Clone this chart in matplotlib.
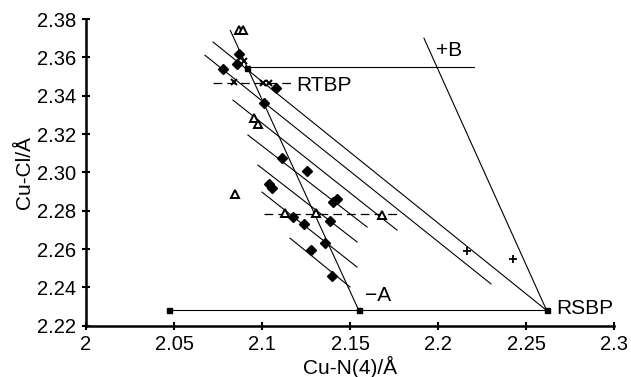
import numpy as np
import matplotlib
matplotlib.use("Agg")
import matplotlib.pyplot as plt

plt.rcParams['font.family'] = ['Liberation Sans', 'DejaVu Sans']

# data points (Cu-N(4), Cu-Cl)
diamond_x = [2.078, 2.087, 2.0856, 2.108, 2.1011, 2.1115, 2.104, 2.1058, 2.1258,
             2.1405, 2.1425, 2.1174, 2.1239, 2.1386, 2.1358, 2.1277, 2.1396]
diamond_y = [2.354, 2.3616, 2.3564, 2.3438, 2.3361, 2.3073, 2.2938, 2.292, 2.3007,
             2.2847, 2.2862, 2.2767, 2.2729, 2.2748, 2.263, 2.2595, 2.2461]

tri_x = [2.087, 2.089, 2.0956, 2.0979, 2.0847, 2.1131, 2.1305, 2.1684]
tri_y = [2.3745, 2.3745, 2.3285, 2.325, 2.2885, 2.2786, 2.2786, 2.278]

cross_x = [2.0843, 2.1007, 2.104, 2.0899]
cross_y = [2.347, 2.3465, 2.3465, 2.3582]

plus_x = [2.2163, 2.2428]
plus_y = [2.2591, 2.2546]

square_x = [2.047, 2.155, 2.2617, 2.0915]
square_y = [2.228, 2.228, 2.228, 2.3545]

# solid reference lines (x0, x1), (y0, y1)
solid_x = [(2.047, 2.2617), (2.2617, 2.192), (2.155, 2.082), (2.0915, 2.2205),
           (2.0722, 2.2617), (2.0676, 2.2301), (2.0835, 2.1767), (2.092, 2.1597),
           (2.0977, 2.154), (2.100, 2.154), (2.1159, 2.150)]
solid_y = [(2.228, 2.228), (2.228, 2.370), (2.228, 2.374), (2.355, 2.355),
           (2.368, 2.228), (2.3611, 2.2418), (2.3377, 2.2699), (2.3195, 2.2715),
           (2.3038, 2.2637), (2.2897, 2.2506), (2.2657, 2.2402)]

# dashed lines
dash_x = [(2.0723, 2.117), (2.1013, 2.1784)]
dash_y = [(2.3465, 2.3465), (2.2784, 2.2784)]

labels = ['+B', 'RTBP', '\u2212A', 'RSBP']
label_x = [2.1989, 2.1197, 2.1585, 2.2674]
label_y = [2.3638, 2.3455, 2.2360, 2.2290]

xticks = [2, 2.05, 2.1, 2.15, 2.2, 2.25, 2.3]
xtick_labels = ['2', '2.05', '2.1', '2.15', '2.2', '2.25', '2.3']
yticks = [2.22, 2.24, 2.26, 2.28, 2.30, 2.32, 2.34, 2.36, 2.38]

fig = plt.figure(figsize=(6.31, 3.77), dpi=100)
ax = fig.add_axes([0.1363, 0.136, 0.8368, 0.8135])

for xs, ys in zip(solid_x, solid_y):
    ax.plot(xs, ys, color='black', lw=0.8)
for xs, ys in zip(dash_x, dash_y):
    ax.plot(xs, ys, color='black', lw=0.9, dashes=(7, 4))

ax.plot(diamond_x, diamond_y, 'D', color='black', ms=4.6, ls='none')
ax.plot(tri_x, tri_y, '^', mfc='white', mec='black', mew=1.4, ms=5.5, ls='none')
ax.plot(cross_x, cross_y, 'x', color='black', mew=1.4, ms=5, ls='none')
ax.plot(plus_x, plus_y, '+', color='black', mew=1.3, ms=5.5, ls='none')
ax.plot(square_x, square_y, 's', color='black', ms=3.6, ls='none')

for t, x, y in zip(labels, label_x, label_y):
    ax.text(x, y, t, fontsize=15, va='center', ha='left')

ax.set_xlim(2, 2.3)
ax.set_ylim(2.22, 2.38)
ax.set_xticks(xticks)
ax.set_xticklabels(xtick_labels)
ax.set_yticks(yticks)
ax.set_yticklabels(['%.2f' % v for v in yticks])
ax.tick_params(direction='inout', length=6, width=1.5, labelsize=14.5, pad=4)

ax.spines['top'].set_visible(False)
ax.spines['right'].set_visible(False)
ax.spines['left'].set_linewidth(1.8)
ax.spines['bottom'].set_linewidth(1.8)

ax.set_xlabel('Cu-N(4)/\u00c5', fontsize=15, labelpad=1)
ax.set_ylabel('Cu-Cl/\u00c5', fontsize=15, labelpad=2)

fig.savefig('out.png', dpi=100)
